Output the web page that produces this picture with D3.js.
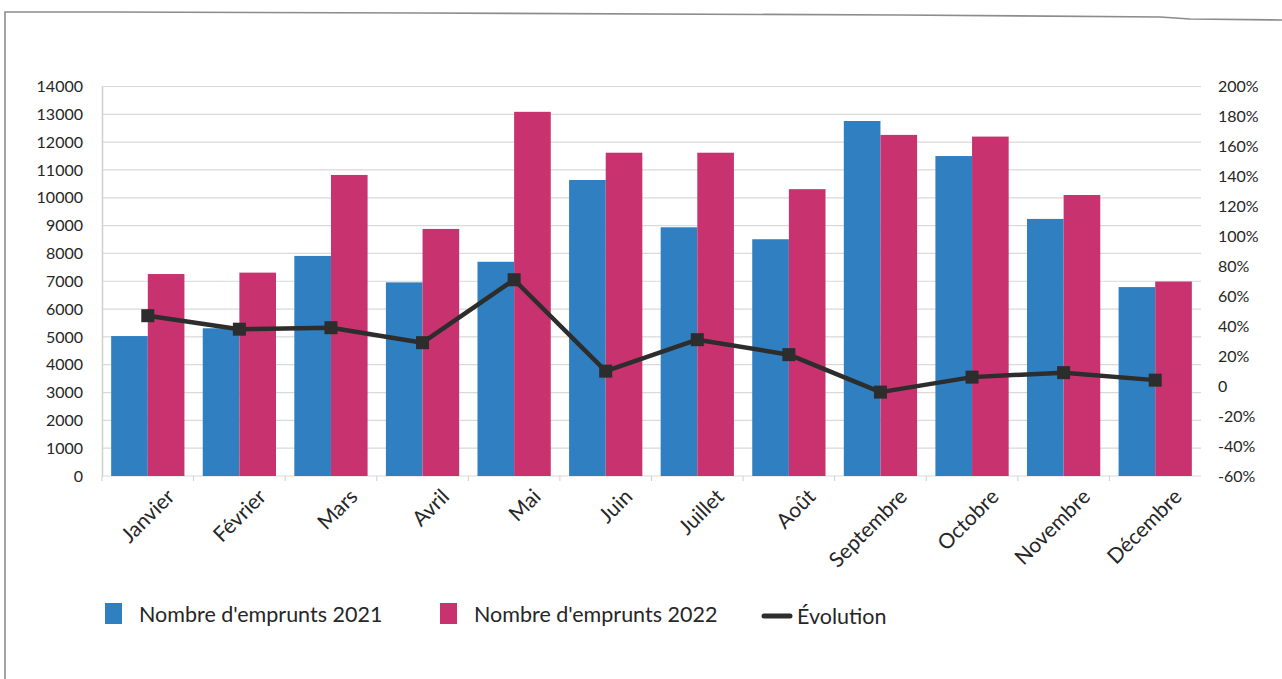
<!DOCTYPE html>
<html lang="fr">
<head>
<meta charset="utf-8">
<script src="https://cdn.jsdelivr.net/npm/d3@7"></script>
<style>
  html, body { margin: 0; padding: 0; background: #fff; }
  svg { display: block; }
  text { font-family: Lato, "Open Sans", sans-serif; fill: #262626; }
</style>
</head>
<body>
<svg id="chart" width="1282" height="679"></svg>
<script>
// Monthly loan counts for two years, plus the year-over-year change (%)
const months = ["Janvier", "Février", "Mars", "Avril", "Mai", "Juin",
  "Juillet", "Août", "Septembre", "Octobre", "Novembre", "Décembre"];
const loans2021 = [5030, 5310, 7910, 6960, 7700, 10640, 8940, 8510, 12760, 11500, 9240, 6790];
const loans2022 = [7260, 7310, 10820, 8880, 13090, 11620, 11620, 10310, 12260, 12200, 10100, 6990];
const evolution = [47, 38, 39, 29, 71, 10, 31, 21, -4, 6, 9, 4];
const countTicks = [0, 1000, 2000, 3000, 4000, 5000, 6000, 7000, 8000, 9000, 10000, 11000, 12000, 13000, 14000];
const pctTicks = [-60, -40, -20, 0, 20, 40, 60, 80, 100, 120, 140, 160, 180, 200];
const seriesNames = ["Nombre d'emprunts 2021", "Nombre d'emprunts 2022", "Évolution"];
const colors = { y2021: "#2f7fc1", y2022: "#c8336f", line: "#2d2d2d" };

const svg = d3.select("#chart");
const plot = { left: 102, right: 1201, top: 86.5, bottom: 476 };

// Page frame around the chart
svg.append("path")
  .attr("d", "M5,679 L5,12 L110,12 L420,13 L900,15 L1160,17 L1190,19 L1282,20")
  .attr("fill", "none").attr("stroke", "#8c8c8c").attr("stroke-width", 1.6);

const x = d3.scaleBand().domain(months).range([plot.left, plot.right]).paddingInner(0.2).paddingOuter(0.1);
const xSub = d3.scaleBand().domain(["y2021", "y2022"]).range([0, x.bandwidth()]);
const yLeft = d3.scaleLinear().domain([0, 14000]).range([plot.bottom, plot.top]);
const yRight = d3.scaleLinear().domain([-60, 200]).range([plot.bottom, plot.top]);

// Horizontal gridlines on the count axis
svg.append("g")
  .selectAll("line").data(countTicks.slice(1)).join("line")
  .attr("x1", plot.left).attr("x2", plot.right)
  .attr("y1", d => yLeft(d)).attr("y2", d => yLeft(d))
  .attr("stroke", "#d9d9d9").attr("stroke-width", 1.2);

// Left axis
const gLeft = svg.append("g").attr("transform", `translate(${plot.left},0)`)
  .call(d3.axisLeft(yLeft).tickValues(countTicks).tickSize(0).tickPadding(19).tickFormat(d3.format("d")));
gLeft.select(".domain").attr("stroke", "#cfcfcf").attr("stroke-width", 1.5);
gLeft.selectAll("text").style("font-size", "16px").attr("fill", "#262626");

// Right axis (percent)
const gRight = svg.append("g").attr("transform", `translate(${plot.right},0)`)
  .call(d3.axisRight(yRight).tickValues(pctTicks).tickSize(0).tickPadding(17)
    .tickFormat(d => d === 0 ? "0" : d + "%"));
gRight.select(".domain").remove();
gRight.selectAll("text").style("font-size", "16px").attr("fill", "#262626");

// Bottom axis with category separators
const gBottom = svg.append("g").attr("transform", `translate(0,${plot.bottom})`);
gBottom.append("line").attr("x1", plot.left).attr("x2", plot.right)
  .attr("stroke", "#d9d9d9").attr("stroke-width", 1.2);
const step = x.step();
gBottom.selectAll("line.sep").data(months).join("line").attr("class", "sep")
  .attr("x1", d => x(d) - step * 0.1).attr("x2", d => x(d) - step * 0.1)
  .attr("y1", 0).attr("y2", 5).attr("stroke", "#cfcfcf");
gBottom.selectAll("text").data(months).join("text")
  .attr("transform", d => `translate(${x(d) + x.bandwidth() / 2 + 28},${22}) rotate(-45)`)
  .attr("text-anchor", "end")
  .style("font-size", "21px")
  .text(d => d);

// Bars
const groups = svg.append("g").selectAll("g").data(months).join("g")
  .attr("transform", d => `translate(${x(d)},0)`);
groups.append("rect")
  .attr("x", xSub("y2021")).attr("width", xSub.bandwidth())
  .attr("y", (d, i) => yLeft(loans2021[i])).attr("height", (d, i) => plot.bottom - yLeft(loans2021[i]))
  .attr("fill", colors.y2021);
groups.append("rect")
  .attr("x", xSub("y2022")).attr("width", xSub.bandwidth())
  .attr("y", (d, i) => yLeft(loans2022[i])).attr("height", (d, i) => plot.bottom - yLeft(loans2022[i]))
  .attr("fill", colors.y2022);

// Evolution line with square markers
const cx = d => x(d) + x.bandwidth() / 2;
const line = d3.line().x((d, i) => cx(months[i])).y(d => yRight(d));
svg.append("path").datum(evolution).attr("d", line)
  .attr("fill", "none").attr("stroke", colors.line).attr("stroke-width", 4.5).attr("stroke-linejoin", "round");
svg.append("g").selectAll("rect").data(evolution).join("rect")
  .attr("x", (d, i) => cx(months[i]) - 6.5).attr("y", d => yRight(d) - 6.5)
  .attr("width", 13).attr("height", 13).attr("fill", colors.line);

// Legend
const legend = svg.append("g").attr("transform", "translate(0,614)");
const legendItems = [
  { name: seriesNames[0], type: "rect", color: colors.y2021, x: 105 },
  { name: seriesNames[1], type: "rect", color: colors.y2022, x: 440 },
  { name: seriesNames[2], type: "line", color: colors.line, x: 764 }
];
legendItems.forEach(item => {
  if (item.type === "rect") {
    legend.append("rect").attr("x", item.x).attr("y", -11).attr("width", 17).attr("height", 21).attr("fill", item.color);
    legend.append("text").attr("x", item.x + 34).attr("y", 8).style("font-size", "21.5px").text(item.name);
  } else {
    legend.append("line").attr("x1", item.x).attr("x2", item.x + 26).attr("y1", 2).attr("y2", 2)
      .attr("stroke", item.color).attr("stroke-width", 5).attr("stroke-linecap", "round");
    legend.append("text").attr("x", item.x + 33).attr("y", 10).style("font-size", "21.5px").text(item.name);
  }
});
</script>
</body>
</html>
